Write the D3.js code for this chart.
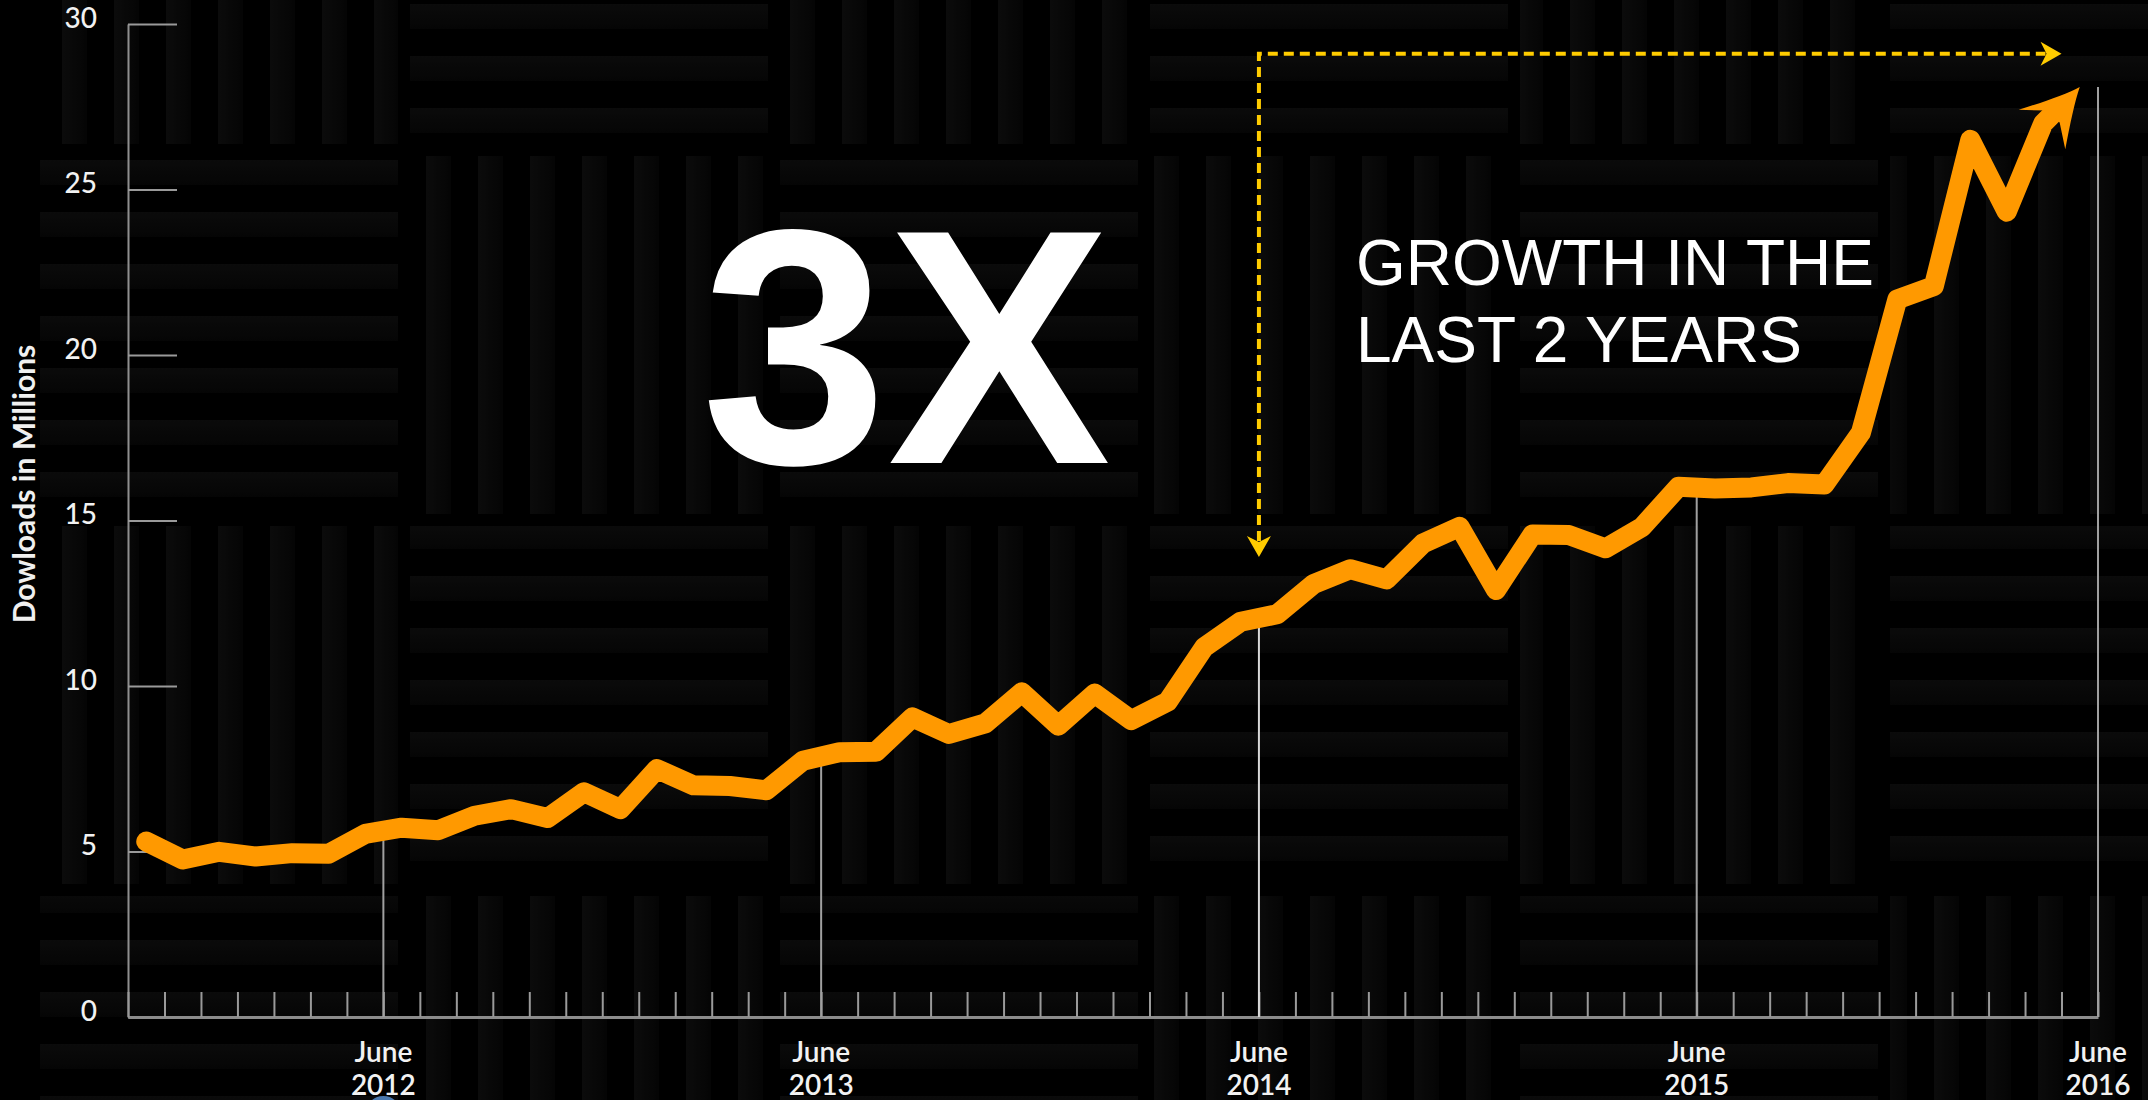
<!DOCTYPE html>
<html><head><meta charset="utf-8">
<script src="https://cdn.jsdelivr.net/npm/d3@7"></script>
<style>
html,body{margin:0;padding:0;background:#000;overflow:hidden;}
svg{display:block;}
</style></head><body>
<svg id="chart" width="2148" height="1100"></svg>
<script>
// ---------- data ----------
const downloads = [5.30,4.76,4.99,4.85,4.95,4.93,5.53,5.72,5.64,6.08,6.28,6.01,
  6.79,6.28,7.49,7.00,6.98,6.85,7.74,8.00,8.01,9.05,8.55,8.87,
  9.81,8.80,9.77,8.97,9.53,11.17,11.94,12.17,13.08,13.53,13.22,14.31,
  14.81,12.90,14.58,14.56,14.16,14.80,16.02,15.97,16.00,16.13,16.09,17.65,
  21.68,22.08,26.50,24.33,27.00,28.10];
const monthCount = 54;                       // month slots on the x axis
const yTicks = [0,5,10,15,20,25,30];
const juneIndex = [7,19,31,43,54];           // month boundaries that are labelled
const juneLabels = [["June","2012"],["June","2013"],["June","2014"],["June","2015"],["June","2016"]];
const yTitle = "Dowloads in Millions";
const headline = "3X";
const subline = ["GROWTH IN THE","LAST 2 YEARS"];
// growth annotation (dashed arrow), in data units
const growthStartIdx = 31, growthDownValue = 13.9, growthTopValue = 29.1, growthEndIdx = 53.0;

// ---------- layout ----------
const W = 2148, H = 1100;
const PL = 128, PR = 2098, PT = 24, PB = 1017;
const ORANGE = "#ff9900", GOLD = "#ffcc00";
const svg = d3.select("#chart");

const x = d3.scaleLinear().domain([0, monthCount]).range([PL, PR]);
const y = d3.scaleLinear().domain([0, 30]).range([PB, PT]);

// ---------- background foam texture ----------
const defs = svg.append("defs");
const hp = defs.append("pattern").attr("id","hp").attr("patternUnits","userSpaceOnUse")
  .attr("width",52).attr("height",52);
const hg = defs.append("linearGradient").attr("id","hg").attr("x1",0).attr("y1",0).attr("x2",0).attr("y2",1);
hg.append("stop").attr("offset","0").attr("stop-color","#121212");
hg.append("stop").attr("offset","1").attr("stop-color","#090909");
hp.append("rect").attr("x",0).attr("y",4).attr("width",52).attr("height",25).attr("fill","url(#hg)");
const vp = defs.append("pattern").attr("id","vp").attr("patternUnits","userSpaceOnUse")
  .attr("width",52).attr("height",52);
const vg = defs.append("linearGradient").attr("id","vg").attr("x1",0).attr("y1",0).attr("x2",1).attr("y2",0);
vg.append("stop").attr("offset","0").attr("stop-color","#131313");
vg.append("stop").attr("offset","1").attr("stop-color","#080808");
vp.append("rect").attr("x",10).attr("y",0).attr("width",25).attr("height",52).attr("fill","url(#vg)");

svg.append("rect").attr("width",W).attr("height",H).attr("fill","#000");
const tile = 370, ox = 34, oy = 150;
const tiles = [];
for (let c = 0; c <= 6; c++) for (let r = -1; r <= 3; r++) tiles.push({c, r});
svg.append("g").selectAll("rect").data(tiles).join("rect")
  .attr("x", d => ox + d.c*tile + 6).attr("y", d => oy + d.r*tile + 6)
  .attr("width", tile - 12).attr("height", tile - 12)
  .attr("fill", d => (((d.c + d.r) % 2) + 2) % 2 === 0 ? "url(#hp)" : "url(#vp)")
  .attr("opacity", 0.6);

// ---------- axes ----------
const yAxis = d3.axisLeft(y).tickValues(yTicks).tickSize(-49).tickSizeOuter(0).tickPadding(31);
const gy = svg.append("g").attr("transform", `translate(${PL},0)`).call(yAxis);
gy.select(".domain").attr("stroke","#8f8f8f").attr("stroke-width",2);
gy.selectAll(".tick line").attr("stroke","#9a9a9a").attr("stroke-width",2);
gy.selectAll(".tick text").attr("fill","#f2f2f2").attr("font-family","Lato, 'Open Sans', sans-serif")
  .attr("font-size",28).attr("font-weight",500).attr("dy","0.12em");

const xAxis = d3.axisBottom(x).tickValues(d3.range(0, monthCount + 1)).tickSize(-25)
  .tickSizeOuter(0).tickFormat("");
const gx = svg.append("g").attr("transform", `translate(0,${PB})`).call(xAxis);
gx.select(".domain").attr("stroke","#8c8c8c").attr("stroke-width",3);
gx.selectAll(".tick line").attr("stroke","#9a9a9a").attr("stroke-width",2);

// value of the line at a month boundary
const valueAt = k => k >= downloads.length ? downloads[downloads.length-1]
  : (k <= 0 ? downloads[0] : (downloads[k-1] + downloads[k]) / 2);

// drop lines at the labelled Junes
svg.append("g").selectAll("line").data(juneIndex).join("line")
  .attr("x1", d => x(d)).attr("x2", d => x(d))
  .attr("y1", y(0)).attr("y2", d => y(valueAt(d)))
  .attr("stroke", d => d === growthStartIdx ? "#d8d8d8" : "#a0a0a0")
  .attr("stroke-width", 2);

// x labels
const xl = svg.append("g").selectAll("text").data(juneIndex).join("text")
  .attr("x", d => x(d)).attr("text-anchor","middle")
  .attr("fill","#f2f2f2").attr("font-family","Lato, 'Open Sans', sans-serif")
  .attr("font-size",28).attr("font-weight",600);
xl.append("tspan").attr("x", d => x(d)).attr("y", 1062).text((d,i) => juneLabels[i][0]);
xl.append("tspan").attr("x", d => x(d)).attr("y", 1095).text((d,i) => juneLabels[i][1]);

// small blue marker peeking at the bottom
svg.append("circle").attr("cx", x(juneIndex[0])).attr("cy", 1114).attr("r", 18).attr("fill","#4a78ad");

// y title
svg.append("text").attr("transform", "translate(35,484) rotate(-90)")
  .attr("text-anchor","middle").attr("fill","#f0f0f0")
  .attr("font-family","Lato, 'Open Sans', sans-serif").attr("font-weight",700)
  .attr("font-size",30).text(yTitle);

// ---------- headline texts ----------
svg.append("text").attr("x", 906).attr("y", 463).attr("text-anchor","middle")
  .attr("fill","#fff").attr("font-family","'Liberation Sans', Arial, sans-serif")
  .attr("font-weight",700).attr("font-size",335).text(headline);
svg.append("g").selectAll("text").data(subline).join("text")
  .attr("x", 1356).attr("y", (d,i) => 285 + i*77)
  .attr("fill","#fff").attr("font-family","'Liberation Sans', Arial, sans-serif")
  .attr("font-size",64).text(d => d);

// ---------- growth dashed arrow ----------
const gxp = x(growthStartIdx), gyTop = y(growthTopValue), gyDown = y(growthDownValue), gxEnd = x(growthEndIdx);
const headLen = 20;
svg.append("path")
  .attr("d", `M${gxp},${gyDown - headLen + 4} L${gxp},${gyTop} L${gxEnd - headLen + 4},${gyTop}`)
  .attr("fill","none").attr("stroke",GOLD).attr("stroke-width",4)
  .attr("stroke-dasharray","10 6");
const smallHead = "M0,0 L-21,-12 L-15,0 L-21,12 Z";
svg.append("path").attr("d", smallHead).attr("fill", GOLD)
  .attr("transform", `translate(${gxp},${gyDown}) rotate(90)`);
svg.append("path").attr("d", smallHead).attr("fill", GOLD)
  .attr("transform", `translate(${gxEnd},${gyTop})`);

// ---------- main line with arrow ----------
const pts = downloads.map((d,i) => [x(i + 0.5), y(d)]);
const tip = pts[pts.length - 1], prev = pts[pts.length - 2];
const ddx = tip[0] - prev[0], ddy = tip[1] - prev[1], len = Math.hypot(ddx, ddy);
const ux = ddx / len, uy = ddy / len;
const shaftEnd = [tip[0] - ux*38, tip[1] - uy*38];
const linePts = pts.slice(0, -1).concat([shaftEnd]);
svg.append("path").datum(linePts)
  .attr("d", d3.line())
  .attr("fill","none").attr("stroke",ORANGE).attr("stroke-width",20)
  .attr("stroke-linejoin","round").attr("stroke-linecap","round");
const ang = Math.atan2(uy, ux) * 180 / Math.PI - 3;
svg.append("path")
  .attr("d","M0,0 C-14,-5 -34,-16 -58,-30 L-40,-9 L-40,9 L-56,31 C-33,17 -14,6 0,0 Z")
  .attr("fill", ORANGE)
  .attr("transform", `translate(${tip[0]},${tip[1]}) rotate(${ang})`);
</script>
</body></html>
